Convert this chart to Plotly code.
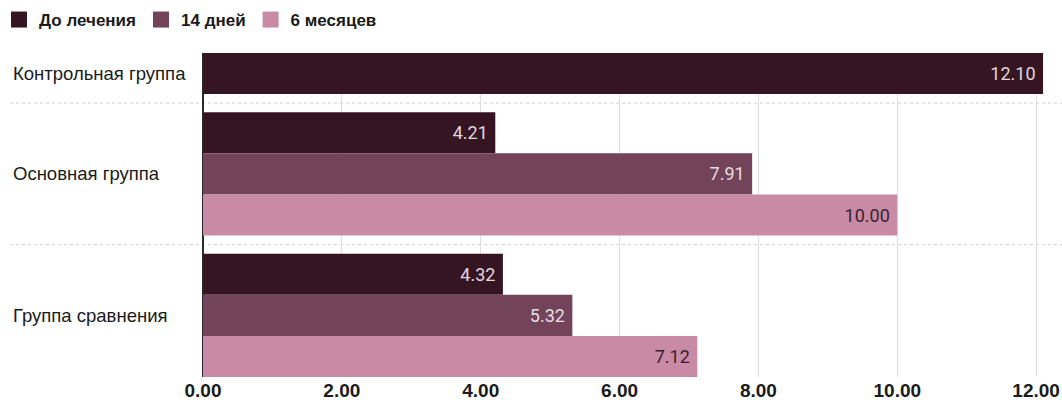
import plotly.graph_objects as go

groups = ["Контрольная группа", "Основная группа", "Группа сравнения"]
series = ["До лечения", "14 дней", "6 месяцев"]
values = {
    "До лечения": [12.10, 4.21, 4.32],
    "14 дней": [None, 7.91, 5.32],
    "6 месяцев": [None, 10.00, 7.12],
}
colors = {"До лечения": "#361522", "14 дней": "#734459", "6 месяцев": "#c88aa5"}
text_colors = {"До лечения": "#e2d7dc", "14 дней": "#e8dde2", "6 месяцев": "#3a1f2c"}
x_ticks = [0, 2, 4, 6, 8, 10, 12]

# layout of bar slots: bars of width 1 within a group, gap between groups
GAP = 0.44
pos = {s: [None] * len(groups) for s in series}
centers, seps = [], []
cursor = 0.0
for gi in range(len(groups)):
    present = [s for s in series if values[s][gi] is not None]
    start = cursor
    for k, s in enumerate(present):
        pos[s][gi] = start + k + 0.5
    end = start + len(present)
    centers.append((start + end) / 2)
    cursor = end
    if gi < len(groups) - 1:
        seps.append(end + GAP / 2)
        cursor = end + GAP

fig = go.Figure()
for s in series:
    xs = [v for v in values[s] if v is not None]
    ys = [p for p, v in zip(pos[s], values[s]) if v is not None]
    fig.add_trace(go.Bar(
        name=s, x=xs, y=ys, orientation="h", width=1.0,
        marker=dict(color=colors[s], line=dict(width=0)),
        texttemplate="%{x:.2f}\u00a0", textposition="inside", insidetextanchor="end",
        textfont=dict(family="Roboto", size=18, color=text_colors[s]),
        hoverinfo="skip", showlegend=False, legendgroup=s,
    ))
# legend entries with larger square swatches
for s in series:
    fig.add_trace(go.Scatter(
        name=s, x=[None], y=[None], mode="markers", legendgroup=s,
        marker=dict(symbol="square", size=18, color=colors[s]),
        hoverinfo="skip", showlegend=True,
    ))

L, R, T, B = 203, 12, 53, 30
W, H = 1062, 407
pw = W - L - R
ph = H - T - B
xmax = 12.2

for yv in seps:
    fig.add_shape(type="line", xref="paper", yref="y",
                  x0=-(L - 10) / pw, x1=1 + R / pw, y0=yv, y1=yv,
                  line=dict(color="#d2d2d2", width=1, dash="dot"), layer="below")

for g, c in zip(groups, centers):
    fig.add_annotation(text=g, xref="paper", yref="y", x=-(L - 11) / pw, y=c,
                       xanchor="left", yanchor="middle", showarrow=False,
                       font=dict(family="Liberation Sans", size=18.5, color="#1a1a1a"))

fig.update_layout(
    width=W, height=H,
    margin=dict(l=L, r=R, t=T, b=B, autoexpand=False),
    paper_bgcolor="white", plot_bgcolor="white",
    barmode="overlay",
    showlegend=True,
    legend=dict(orientation="h", x=-(L + 1) / pw, xanchor="left", y=1 + (T - 2) / ph,
                yanchor="top", itemsizing="trace",
                font=dict(family="Liberation Sans", size=17, color="#1a1a1a", weight="bold"),
                traceorder="normal", bgcolor="rgba(0,0,0,0)"),
    xaxis=dict(range=[0, xmax], tickvals=x_ticks, ticktext=[f"{t:.2f}" for t in x_ticks],
               showgrid=True, gridcolor="#dedede", gridwidth=1,
               zeroline=True, zerolinecolor="#2a2a2a", zerolinewidth=1.5,
               showline=False, ticks="",
               tickfont=dict(family="Liberation Sans", size=19, color="#1a1a1a", weight="bold")),
    yaxis=dict(range=[cursor, 0], showticklabels=False, showgrid=False, zeroline=False,
               showline=False, ticks=""),
)

fig.write_html("out.html", config={"displayModeBar": False},
               post_script="document.body.style.margin='0';document.body.style.padding='0';")
